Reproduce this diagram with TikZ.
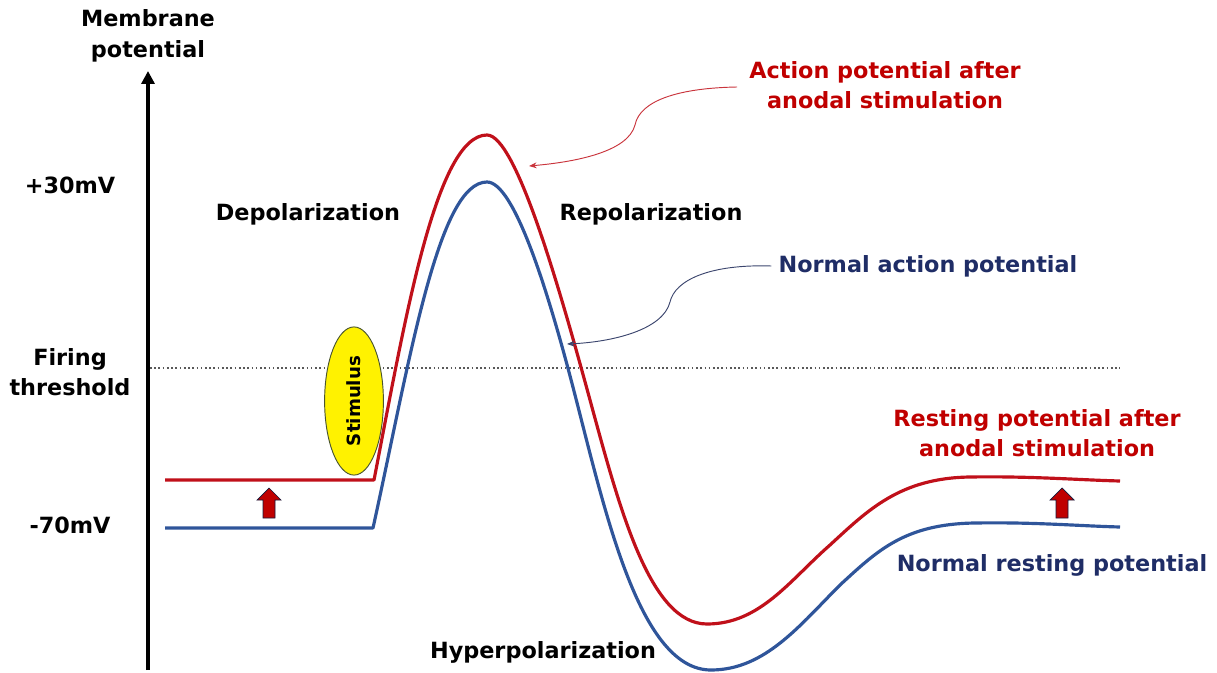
\documentclass[tikz,border=0pt]{standalone}
\usepackage{fontspec}
\setmainfont{DejaVu Sans}
\usetikzlibrary{arrows.meta,shapes.geometric}
\definecolor{txtred}{HTML}{C00000}
\definecolor{curvered}{HTML}{C0101A}
\definecolor{curveblue}{HTML}{2F559A}
\definecolor{navy}{HTML}{1F2D66}
\definecolor{stimline}{HTML}{4A5530}
\begin{document}
\begin{tikzpicture}[x=0.8505pt,y=-0.8505pt,
  lbl/.style={font=\bfseries\fontsize{19}{26}\selectfont, align=center, inner sep=0pt},
  redlbl/.style={lbl, text=txtred},
  bluelbl/.style={lbl, text=navy},
  redcurve/.style={draw=curvered, line width=2.7pt, line join=round},
  bluecurve/.style={draw=curveblue, line width=2.7pt, line join=round},
  pointer/.style={line width=0.8pt, -{Stealth[length=6.5pt,width=5pt]}},
  uparr/.pic={\draw[fill=txtred, draw=navy!60!black, line width=0.6pt]
     (0,0) -- (12,12) -- (6,12) -- (6,30) -- (-6,30) -- (-6,12) -- (-12,12) -- cycle;}
]
\useasboundingbox (0,0) rectangle (1217,673);

% axis
\coordinate (axbot) at (148,670);
\coordinate (axtop) at (148,71);
\draw[line width=3pt, -{Triangle[length=11pt,width=11pt]}] (axbot) -- (axtop);

% threshold
\coordinate (thl) at (150,368);
\coordinate (thr) at (1120,368);
\draw[gray!70!black, line width=1pt, dash pattern=on 1.4pt off 2.2pt] (thl) -- (thr);

% labels
\node[lbl] (mem) at (148,36) {Membrane\\potential};
\node[lbl] (p30) at (70,185) {+30mV};
\node[lbl] (m70) at (70,525) {-70mV};
\node[lbl] (fire) at (70,372) {Firing\\threshold};
\node[lbl] (depol) at (308,214) {Depolarization};
\node[lbl] (repol) at (651,214) {Repolarization};
\node[lbl] (hyper) at (543,652) {Hyperpolarization};
\node[redlbl] (aplbl) at (885,85) {Action potential after\\anodal stimulation};
\node[bluelbl] (naplbl) at (928,266) {Normal action potential};
\node[redlbl] (rplbl) at (1037,433) {Resting potential after\\anodal stimulation};
\node[bluelbl] (nrplbl) at (1052,565) {Normal resting potential};

% stimulus
\node[ellipse, draw=stimline, fill=yellow, line width=0.8pt, rotate=90,
      minimum width=126pt, minimum height=50pt, inner sep=0pt,
      font=\bfseries\fontsize{15.5}{17}\selectfont] (stim) at (354,401) {Stimulus};

% curves
\path[bluecurve] (165,528) -- (373,528)
  .. controls (410,360) and (438,182) .. (487,182)
  .. controls (514,182) and (548,290) .. (575,395)
  .. controls (606,515) and (640,670) .. (711,670)
  .. controls (765,670) and (800,625) .. (840,585)
  .. controls (878,550) and (905,524) .. (975,523)
  .. controls (1035,522) and (1080,526) .. (1120,527);
\path[redcurve] (165,480) -- (374,480)
  .. controls (405,320) and (436,135) .. (487,135)
  .. controls (516,135) and (560,290) .. (590,400)
  .. controls (620,510) and (650,624) .. (707,624)
  .. controls (760,624) and (790,580) .. (830,545)
  .. controls (868,510) and (900,478) .. (970,477)
  .. controls (1030,476) and (1080,480) .. (1120,481);

% pointers
\coordinate (aptip) at (529,166);
\coordinate (naptip) at (567,344);
\coordinate (apstart) at (737,87);
\draw[pointer, draw=curvered!85!white] (apstart)
  .. controls (680,88) and (640,100) .. (635,125)
  .. controls (628,152) and (575,162) .. (aptip);
\draw[pointer, draw=navy!70!gray] ([xshift=-6pt]naplbl.west)
  .. controls (710,264) and (675,280) .. (670,302)
  .. controls (663,330) and (612,342) .. (naptip);

% block arrows
\pic at (269,488) {uparr};
\pic at (1062,488) {uparr};
\end{tikzpicture}
\end{document}
